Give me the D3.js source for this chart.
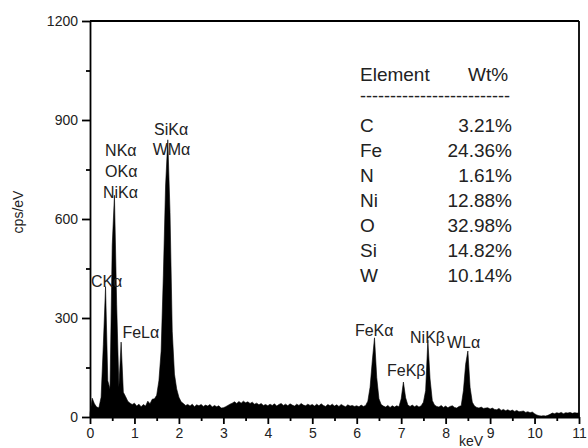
<!DOCTYPE html>
<html>
<head>
<meta charset="utf-8">
<script src="https://cdn.jsdelivr.net/npm/d3@7/dist/d3.min.js"></script>
<style>
  body { margin: 0; background: #fff; }
  text { font-family: "Liberation Sans", Arial, sans-serif; fill: #222; }
  .axis path, .axis line { stroke: #000; stroke-width: 1.8; }
  .axis text { font-size: 14px; fill: #222; }
</style>
</head>
<body>
<script>
var svgWidth = 588;
var svgHeight = 448;

var margin = { top: 21, right: 9, bottom: 31, left: 90 };
var width = svgWidth - margin.left - margin.right;
var height = svgHeight - margin.top - margin.bottom;

// spectrum, counts every 0.05 keV from 0 to 11 keV
var step = 0.05;
var counts = [
  10, 57, 40, 30, 28, 60, 220, 395, 110, 85, 520, 672, 340, 90, 227, 75, 62, 48, 42, 38,
  42, 33, 39, 31, 38, 33, 48, 40, 54, 55, 66, 110, 200, 430, 700, 840, 620, 260, 130, 85,
  60, 46, 41, 35, 38, 33, 39, 31, 37, 34, 38, 32, 36, 33, 38, 30, 35, 31, 34, 27,
  28, 31, 35, 39, 42, 46, 41, 47, 42, 48, 43, 46, 41, 45, 39, 42, 37, 41, 35, 38,
  34, 39, 35, 40, 33, 38, 41, 35, 39, 34, 40, 36, 33, 39, 35, 41, 36, 34, 39, 35,
  38, 33, 39, 34, 40, 35, 32, 38, 34, 39, 33, 37, 32, 38, 34, 31, 37, 33, 35, 32,
  34, 31, 36, 32, 35, 48, 90, 170, 240, 120, 55, 38, 33, 30, 35, 29, 34, 30, 34, 31,
  55, 106, 58, 36, 32, 36, 31, 35, 30, 34, 45, 80, 233, 115, 50, 36, 32, 30, 35, 29,
  33, 28, 32, 34, 29, 27, 32, 34, 80, 160, 200, 90, 45, 33, 29, 27, 30, 26, 27, 28,
  24, 27, 23, 22, 26, 20, 23, 19, 22, 18, 21, 17, 20, 16, 17, 18, 14, 16, 13, 15,
  10, 6, 4, 3, 4, 3, 5, 8, 12, 10, 13, 11, 14, 10, 13, 12, 14, 11, 13, 12,
  12
];

// peak labels
var peakNames = ["CKα", "FeLα", "NKα", "OKα", "NiKα", "SiKα", "WMα", "FeKα", "FeKβ", "NiKβ", "WLα"];
var peakKeV =   [0.02, 0.73, 0.34, 0.34, 0.29, 1.44, 1.41, 5.96, 6.68, 7.2, 8.03];
var peakCps =   [395, 240, 790, 727, 665, 855, 795, 245, 125, 225, 210];

// composition table
var elements = ["C", "Fe", "N", "Ni", "O", "Si", "W"];
var wtPct = ["3.21%", "24.36%", "1.61%", "12.88%", "32.98%", "14.82%", "10.14%"];

var xTicks = d3.range(0, 12, 1);
var yTicks = [0, 300, 600, 900, 1200];

var svg = d3.select("body")
  .append("svg")
  .attr("width", svgWidth)
  .attr("height", svgHeight);

var chartGroup = svg.append("g")
  .attr("transform", `translate(${margin.left}, ${margin.top})`);

var xScale = d3.scaleLinear().domain([0, 11]).range([0, width]);
var yScale = d3.scaleLinear().domain([0, 1200]).range([height, 0]);

// filled spectrum
var area = d3.area()
  .x((d, i) => xScale(i * step))
  .y0(yScale(0))
  .y1(d => yScale(d));

chartGroup.append("path")
  .datum(counts)
  .attr("d", area)
  .attr("fill", "#000")
  .attr("stroke", "#000")
  .attr("stroke-width", 0.6);

// minor ticks
chartGroup.append("g")
  .attr("class", "axis")
  .attr("transform", `translate(0, ${height})`)
  .call(d3.axisBottom(xScale).tickValues(d3.range(0.5, 11, 1)).tickSize(4).tickFormat(""))
  .select(".domain").remove();

chartGroup.append("g")
  .attr("class", "axis")
  .call(d3.axisLeft(yScale).tickValues([150, 450, 750, 1050]).tickSize(4).tickFormat(""))
  .select(".domain").remove();

// major axes
chartGroup.append("g")
  .attr("class", "axis")
  .attr("transform", `translate(0, ${height})`)
  .call(d3.axisBottom(xScale).tickValues(xTicks).tickSize(7).tickSizeOuter(0).tickPadding(4).tickFormat(d3.format("d")));

chartGroup.append("g")
  .attr("class", "axis")
  .call(d3.axisLeft(yScale).tickValues(yTicks).tickSize(8).tickSizeOuter(0).tickPadding(4).tickFormat(d3.format("d")));

// top and right frame
chartGroup.append("line")
  .attr("x1", 0).attr("x2", width).attr("y1", 0).attr("y2", 0)
  .attr("stroke", "#000").attr("stroke-width", 1.8);
chartGroup.append("line")
  .attr("x1", width).attr("x2", width).attr("y1", 0).attr("y2", height)
  .attr("stroke", "#000").attr("stroke-width", 1.8);

// axis titles
chartGroup.append("text")
  .attr("transform", `translate(${18 - margin.left}, ${212 - margin.top}) rotate(-90)`)
  .attr("text-anchor", "middle")
  .attr("dy", "0.35em")
  .style("font-size", "14px")
  .text("cps/eV");

chartGroup.append("text")
  .attr("x", 471 - margin.left)
  .attr("y", height + 29)
  .attr("text-anchor", "middle")
  .style("font-size", "14px")
  .text("keV");

// peak labels
chartGroup.selectAll(".peakLabel")
  .data(peakNames)
  .enter()
  .append("text")
  .attr("class", "peakLabel")
  .attr("x", (d, i) => xScale(peakKeV[i]))
  .attr("y", (d, i) => yScale(peakCps[i]))
  .style("font-size", "16px")
  .text(d => d);

// composition table
var table = svg.append("g").attr("transform", "translate(360, 81)");

table.append("text").attr("x", 0).attr("y", 0).style("font-size", "19px").text("Element");
table.append("text").attr("x", 108).attr("y", 0).style("font-size", "19px").text("Wt%");
table.append("text")
  .attr("x", 0).attr("y", 21)
  .attr("textLength", 150)
  .attr("lengthAdjust", "spacingAndGlyphs")
  .style("font-size", "19px")
  .text("-------------------------");

table.selectAll(".el")
  .data(elements)
  .enter()
  .append("text")
  .attr("class", "el")
  .attr("x", 0)
  .attr("y", (d, i) => 51 + i * 25)
  .style("font-size", "19px")
  .text(d => d);

table.selectAll(".wt")
  .data(wtPct)
  .enter()
  .append("text")
  .attr("class", "wt")
  .attr("x", 152)
  .attr("y", (d, i) => 51 + i * 25)
  .attr("text-anchor", "end")
  .style("font-size", "19px")
  .text(d => d);
</script>
</body>
</html>
